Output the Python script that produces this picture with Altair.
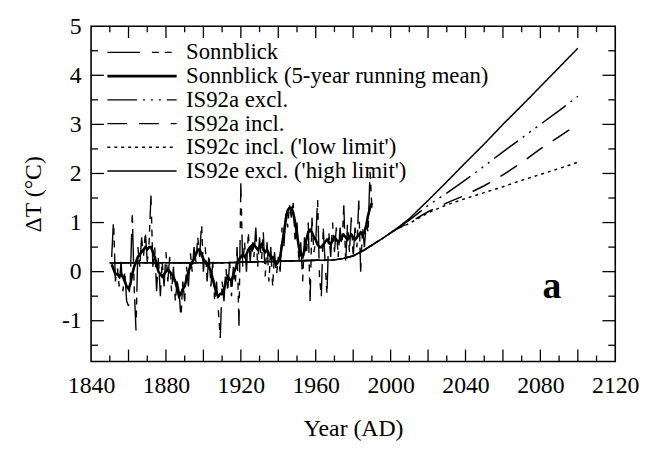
import altair as alt
import pandas as pd

# ---------------- data ----------------
annual_years = list(range(1851, 1991))
annual_vals = [
    0.3, 1.05, -0.2, 0.1, -0.3, 0.2, -0.4, 0.0, -0.6, -0.7,          # 1851-1860
    -0.1, 1.2, -0.3, -1.2, 0.5, 0.1, 0.7, 0.3, 0.8, 0.2,             # 1861-1870
    0.6, 1.55, 0.1, 0.5, -0.4, 0.3, -0.5, 0.2, -0.3, 0.4,            # 1871-1880
    -0.2, 0.3, -0.4, 0.1, -0.6, -0.2, -0.4, -0.95, -0.2, -0.6,       # 1881-1890
    0.1, -0.3, 0.4, 0.0, 0.5, 0.2, 0.7, 0.3, 1.0, 0.0,               # 1891-1900
    0.5, -0.2, 0.4, -0.3, 0.2, -0.6, -0.2, -0.8, -1.35, -0.2,        # 1901-1910
    -0.6, 0.1, -0.4, 0.2, -0.5, 0.1, -0.3, 0.5, -1.1, 1.8,           # 1911-1920
    0.1, 0.6, 0.0, 0.8, 0.2, 0.7, 0.3, 0.9, 0.1, 0.7,                # 1921-1930
    0.2, 0.8, -0.1, 0.6, -0.2, 0.5, -0.3, 0.4, -0.1, 0.3,            # 1931-1940
    0.0, 0.9, 0.5, 1.2, 0.9, 1.35, 1.1, 1.4, 0.6, 1.0,               # 1941-1950
    0.2, 0.6, -0.2, 0.7, 0.3, 1.0, -0.6, 1.1, 0.4, 0.6,              # 1951-1960
    1.5, -0.1, -0.5, 0.9, 0.2, -0.45, 0.8, 0.3, 1.0, 0.4,            # 1961-1970
    0.9, 0.3, 0.9, 0.5, 1.35, 0.2, 1.0, 0.4, 1.1, 0.3,               # 1971-1980
    0.9, 0.5, 1.45, 0.0, 0.9, 0.5, 1.0, 0.8, 2.05, 1.3,              # 1981-1990
]
mean_vals = [
    0.15, 0.05, -0.05, -0.05, -0.1, -0.05, -0.1, -0.2, -0.3, -0.35,  # 1851-1860
    -0.25, -0.05, 0.1, 0.2, 0.3, 0.35, 0.4, 0.45, 0.5, 0.45,         # 1861-1870
    0.5, 0.5, 0.4, 0.3, 0.15, 0.0, -0.05, -0.1, -0.05, 0.0,          # 1871-1880
    0.05, 0.0, -0.05, -0.1, -0.2, -0.35, -0.5, -0.45, -0.35, -0.3,   # 1881-1890
    -0.15, 0.0, 0.1, 0.2, 0.25, 0.35, 0.45, 0.45, 0.35, 0.25,        # 1891-1900
    0.2, 0.15, 0.1, 0.0, -0.15, -0.3, -0.45, -0.5, -0.45, -0.45,     # 1901-1910
    -0.35, -0.2, -0.1, -0.15, -0.2, -0.05, 0.05, 0.15, 0.25, 0.3,    # 1911-1920
    0.35, 0.3, 0.35, 0.45, 0.5, 0.45, 0.55, 0.5, 0.45, 0.5,          # 1921-1930
    0.55, 0.45, 0.4, 0.45, 0.35, 0.3, 0.3, 0.2, 0.15, 0.2,           # 1931-1940
    0.3, 0.55, 0.8, 1.05, 1.25, 1.3, 1.3, 1.2, 1.0, 0.75,            # 1941-1950
    0.5, 0.35, 0.3, 0.45, 0.65, 0.8, 0.85, 0.8, 0.7, 0.65,           # 1951-1960
    0.55, 0.5, 0.5, 0.55, 0.6, 0.65, 0.6, 0.55, 0.65, 0.7,           # 1961-1970
    0.65, 0.6, 0.65, 0.7, 0.75, 0.7, 0.65, 0.7, 0.75, 0.7,           # 1971-1980
    0.65, 0.7, 0.75, 0.8, 0.75, 0.8, 0.95, 1.15, 1.3, 1.4,           # 1981-1990
]

hist_years = [1850, 1860, 1870, 1880, 1890, 1900, 1910, 1920, 1930, 1940,
              1950, 1960, 1970, 1975, 1980, 1985, 1990, 1995, 2000]
hist_vals = [0.18, 0.18, 0.18, 0.18, 0.18, 0.18, 0.18, 0.19, 0.20, 0.21,
             0.22, 0.23, 0.24, 0.27, 0.32, 0.42, 0.54, 0.66, 0.79]
future_years = [2005, 2010, 2020, 2030, 2040, 2050, 2060, 2070, 2080, 2090, 2100]
is92a_excl = [0.92, 1.05, 1.35, 1.60, 1.87, 2.15, 2.44, 2.72, 3.00, 3.28, 3.57]
is92a_incl = [0.90, 1.00, 1.22, 1.40, 1.56, 1.75, 1.97, 2.22, 2.50, 2.75, 3.00]
is92c_incl = [0.90, 0.98, 1.20, 1.36, 1.49, 1.61, 1.73, 1.86, 1.98, 2.10, 2.23]
is92e_excl = [0.93, 1.08, 1.45, 1.83, 2.22, 2.60, 3.00, 3.38, 3.77, 4.16, 4.55]

series_names = [
    "Sonnblick",
    "Sonnblick (5-year running mean)",
    "IS92a excl.",
    "IS92a incl.",
    "IS92c incl. ('low limit')",
    "IS92e excl. ('high limit')",
]

x_major_ticks = list(range(1860, 2120, 20))
x_minor_ticks = list(range(1850, 2120, 20))
y_major_ticks = [-1, 0, 1, 2, 3, 4]
y_minor_ticks = [-1.5, -0.5, 0.5, 1.5, 2.5, 3.5, 4.5]
x_labels = list(range(1840, 2121, 40))
y_labels = [-1, 0, 1, 2, 3, 4, 5]

# ---------------- build table ----------------
rows = []
for y, v in zip(annual_years, annual_vals):
    rows.append({"year": y, "value": v, "series": series_names[0]})
for y, v in zip(annual_years, mean_vals):
    rows.append({"year": y, "value": v, "series": series_names[1]})
for name, fut in zip(series_names[2:], [is92a_excl, is92a_incl, is92c_incl, is92e_excl]):
    for y, v in zip(hist_years + future_years, hist_vals + fut):
        rows.append({"year": y, "value": v, "series": name})
df = pd.DataFrame(rows)

W, H = 530, 339
FONT = "Liberation Serif"

xscale = alt.Scale(domain=[1840, 2120], nice=False, zero=False)
yscale = alt.Scale(domain=[-1.83, 5], nice=False, zero=False)

axis_style = dict(
    ticks=False, domain=False, grid=False, labelFlush=False, labelOverlap=False,
    labelFont=FONT, labelFontSize=24, labelColor="black",
    titleFont=FONT, titleFontSize=24, titleColor="black", titleFontWeight="normal",
)
x_axis = alt.Axis(values=x_labels, format="d", labelPadding=12, titlePadding=20,
                  **axis_style)
y_axis = alt.Axis(values=y_labels, labelExpr="toString(datum.value)", labelPadding=10,
                  titlePadding=16, **axis_style)
X_TITLE = "Year (AD)"
Y_TITLE = "ΔT (°C)"

legend = alt.Legend(
    orient="none", legendX=15, legendY=15, title=None,
    symbolType="stroke", symbolSize=4900, symbolStrokeColor="black",
    labelFont=FONT, labelFontSize=23, labelColor="black", labelOffset=8,
    clipHeight=23, rowPadding=0, padding=0, labelLimit=400,
)

lines = alt.Chart(df).mark_line(color="black").encode(
    x=alt.X("year:Q", scale=xscale, axis=x_axis, title=X_TITLE),
    y=alt.Y("value:Q", scale=yscale, axis=y_axis, title=Y_TITLE),
    strokeDash=alt.StrokeDash("series:N",
        scale=alt.Scale(type="ordinal", domain=series_names,
                        range=[[33, 12, 7, 6, 7, 6], [1, 0], [30, 6, 2, 6, 2, 6, 2, 6],
                               [20, 12], [3, 4], [1, 0]]),
        legend=legend),
    strokeWidth=alt.StrokeWidth("series:N",
        scale=alt.Scale(type="ordinal", domain=series_names,
                        range=[1.4, 2.6, 1.5, 1.5, 1.5, 1.5]),
        legend=legend),
    order=alt.Order("year:Q"),
)

def tick_layers(vals, length, axis_dir):
    d = pd.DataFrame({"t": vals})
    base = alt.Chart(d).mark_rule(color="black", strokeWidth=1.3)
    if axis_dir == "x":
        enc = alt.X("t:Q", scale=xscale, axis=x_axis, title=X_TITLE)
        return [base.encode(x=enc, y=alt.value(H), y2=alt.value(H - length)),
                base.encode(x=enc, y=alt.value(0), y2=alt.value(length))]
    enc = alt.Y("t:Q", scale=yscale, axis=y_axis, title=Y_TITLE)
    return [base.encode(y=enc, x=alt.value(0), x2=alt.value(length)),
            base.encode(y=enc, x=alt.value(W), x2=alt.value(W - length))]

ticks = (tick_layers(x_major_ticks, 12, "x") + tick_layers(x_minor_ticks, 6, "x") +
         tick_layers(y_major_ticks, 13, "y") + tick_layers(y_minor_ticks, 7, "y"))

panel = alt.Chart(pd.DataFrame({"label": ["a"]})).mark_text(
    font=FONT, fontSize=38, fontWeight="bold", color="black", align="center",
    baseline="alphabetic"
).encode(text="label:N", x=alt.value(466), y=alt.value(275))

chart = alt.layer(lines, *ticks, panel).properties(
    width=W, height=H,
    autosize=alt.AutoSizeParams(type="none"),
    padding={"left": 84, "top": 16, "right": 24, "bottom": 78},
).configure_view(
    stroke="black", strokeWidth=1.6
)

chart.save("out.html", embed_options={"renderer": "svg", "actions": False})
